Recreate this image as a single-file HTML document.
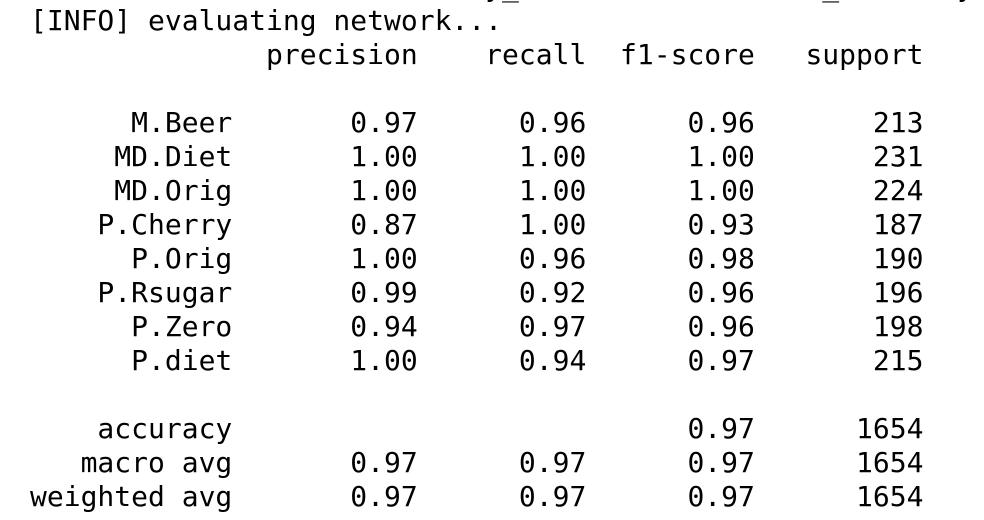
<!DOCTYPE html>
<html><head><meta charset="utf-8"><style>
html,body{margin:0;padding:0;background:#fff;width:984px;height:520px;overflow:hidden;position:relative}
pre{position:absolute;left:30px;margin:0;font-family:"DejaVu Sans Mono","Liberation Mono",monospace;font-size:28px;line-height:34px;color:#000;white-space:pre}
</style></head><body>
<pre id="cut" style="top:-30px">                           y_                  _       y</pre>
<pre id="report" style="top:4px"></pre>
<script>
const labels=["M.Beer","MD.Diet","MD.Orig","P.Cherry","P.Orig","P.Rsugar","P.Zero","P.diet"];
const precision=[0.97,1.00,1.00,0.87,1.00,0.99,0.94,1.00];
const recall=[0.96,1.00,1.00,1.00,0.96,0.92,0.97,0.94];
const f1=[0.96,1.00,1.00,0.93,0.98,0.96,0.96,0.97];
const support=[213,231,224,187,190,196,198,215];
const accuracy=[0.97,1654];
const macroAvg=[0.97,0.97,0.97,1654];
const weightedAvg=[0.97,0.97,0.97,1654];
const W=12;
const f=v=>' '+v.toFixed(2).padStart(9);
const s=v=>' '+String(v).padStart(9);
let lines=["[INFO] evaluating network..."];
lines.push(''.padStart(W)+' '+s('precision')+s('recall')+s('f1-score')+s('support'));
lines.push('');
for(let i=0;i<labels.length;i++){
  lines.push(labels[i].padStart(W)+' '+f(precision[i])+f(recall[i])+f(f1[i])+s(support[i]));
}
lines.push('');
lines.push('accuracy'.padStart(W)+' '+s('')+s('')+f(accuracy[0])+s(accuracy[1]));
lines.push('macro avg'.padStart(W)+' '+f(macroAvg[0])+f(macroAvg[1])+f(macroAvg[2])+s(macroAvg[3]));
lines.push('weighted avg'.padStart(W)+' '+f(weightedAvg[0])+f(weightedAvg[1])+f(weightedAvg[2])+s(weightedAvg[3]));
document.getElementById('report').textContent=lines.join('\n');
</script>
</body></html>
